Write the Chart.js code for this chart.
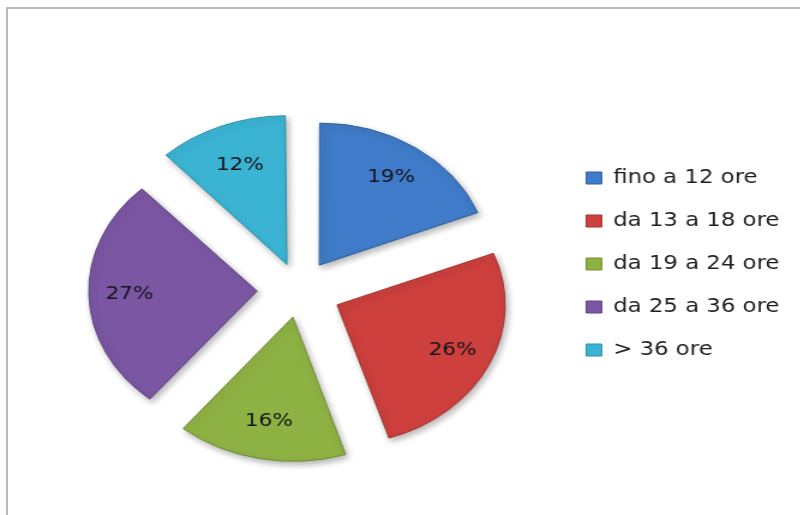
<!DOCTYPE html>
<html>
<head>
<meta charset="utf-8">
<script src="https://cdn.jsdelivr.net/npm/chart.js@4.4.1/dist/chart.umd.min.js"></script>
<style>
  html, body { margin: 0; padding: 0; background: #fff; overflow: hidden; }
  #frame {
    position: absolute; left: 6px; top: 7px; width: 900px; height: 600px;
    border-left: 2px solid #b9b9b9; border-top: 2px solid #b9b9b9;
  }
  #wrap {
    position: absolute; left: 0; top: 0; width: 667px; height: 515px;
    transform: scaleX(1.2); transform-origin: 0 0;
  }
</style>
</head>
<body>
<div id="frame"></div>
<div id="wrap"><canvas id="torta"></canvas></div>
<script>
const fasce = ['fino a 12 ore', 'da 13 a 18 ore', 'da 19 a 24 ore', 'da 25 a 36 ore', '> 36 ore'];
const percentuali = [19, 26, 16, 27, 12];
const colori = ['#3f7bc8', '#cd403d', '#8db243', '#7b57a3', '#3bb4d4'];
const bordi = ['#30609e', '#a43230', '#6f8d33', '#604383', '#2d8fa8'];
// distacco delle fette (le fette piccole crescono di raggio con l'offset, quindi meno distacco)
const distacco = [120, 140, 110, 140, 110];

// ombra morbida sotto le fette
const ombra = {
    id: 'ombra',
    beforeDatasetsDraw(chart) {
        const c = chart.ctx;
        c.save();
        c.shadowColor = 'rgba(0,0,0,0.3)';
        c.shadowBlur = 6;
        c.shadowOffsetX = 2;
        c.shadowOffsetY = 3;
    },
    afterDatasetsDraw(chart) {
        chart.ctx.restore();
    }
};

// etichette percentuali dentro le fette
const etichette = {
    id: 'etichette',
    afterDatasetsDraw(chart) {
        const c = chart.ctx;
        const meta = chart.getDatasetMeta(0);
        c.save();
        c.font = '18px "DejaVu Sans"';
        c.fillStyle = '#15151c';
        c.textAlign = 'center';
        c.textBaseline = 'middle';
        meta.data.forEach((arc, i) => {
            const p = arc.getProps(['x', 'y', 'startAngle', 'endAngle', 'outerRadius'], true);
            const mid = (p.startAngle + p.endAngle) / 2;
            const dist = (arc.options.offset || 0) / 4 + p.outerRadius * 0.76;
            c.fillText(percentuali[i] + '%', p.x + Math.cos(mid) * dist, p.y + Math.sin(mid) * dist);
        });
        c.restore();
    }
};

new Chart(document.getElementById('torta'), {
    type: 'pie',
    data: {
        labels: fasce,
        datasets: [{
            data: percentuali,
            backgroundColor: colori,
            borderColor: bordi,
            borderWidth: 1,
            offset: distacco,
            radius: 140,
            clip: false
        }]
    },
    options: {
        responsive: true,
        maintainAspectRatio: false,
        animation: false,
        layout: { padding: { left: 34, right: 7.5, top: 144.5, bottom: 79.5 } },
        plugins: {
            tooltip: { enabled: false },
            legend: {
                position: 'right',
                align: 'start',
                labels: {
                    boxWidth: 13,
                    boxHeight: 12,
                    padding: 24,
                    color: '#1e1e1e',
                    font: { family: '"DejaVu Sans"', size: 19 }
                }
            }
        }
    },
    plugins: [ombra, etichette]
});
</script>
</body>
</html>
